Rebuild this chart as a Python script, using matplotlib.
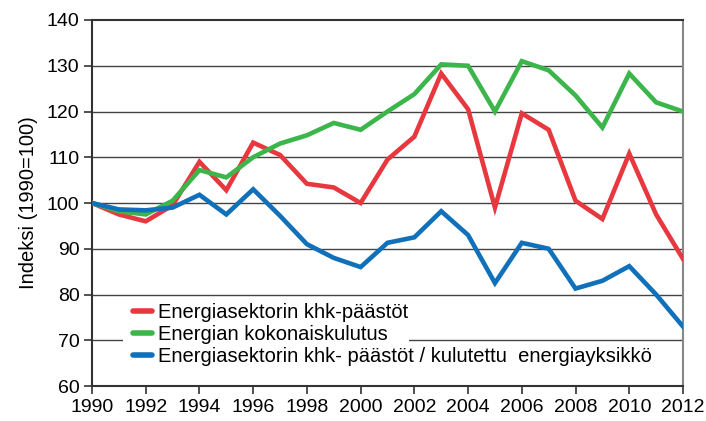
import matplotlib.pyplot as plt
from matplotlib.patches import Rectangle

years = list(range(1990, 2013))

# index values, 1990 = 100
khk_paastot = [100, 97.5, 96, 99.5, 109, 102.8, 113.2, 110.5, 104.2, 103.4, 100,
               109.5, 114.5, 128.3, 120.5, 99, 119.6, 116, 100.5, 96.5, 110.8, 97.5, 87.8]
kokonaiskulutus = [100, 98.2, 97.5, 100.5, 107.2, 105.6, 110, 113, 114.8, 117.5, 116,
                   120, 123.8, 130.3, 130, 120, 131, 129, 123.5, 116.5, 128.3, 122, 120]
per_yksikko = [100, 98.6, 98.4, 99, 101.8, 97.5, 103, 97.2, 91, 88, 86,
               91.3, 92.5, 98.2, 93, 82.5, 91.3, 90, 81.3, 83, 86.2, 80, 73]

labels = ["Energiasektorin khk-päästöt",
          "Energian kokonaiskulutus",
          "Energiasektorin khk- päästöt / kulutettu  energiayksikkö"]
colors = ["#e8383f", "#3cb54b", "#1070b9"]

plt.rcParams["font.family"] = ["Liberation Sans", "DejaVu Sans"]

fig = plt.figure(figsize=(7.06, 4.21), dpi=100)
ax = fig.add_axes([0.1303, 0.0831, 0.8371, 0.8694])

for y in range(70, 140, 10):
    ax.axhline(y, color="#444444", lw=1.0, zorder=1)

# white box behind the legend hides part of the 70 gridline
ax.add_patch(Rectangle((0.052, 0.03), 0.484, 0.2, transform=ax.transAxes,
                       facecolor="white", edgecolor="none", zorder=1.5))

for vals, lab, col in zip([khk_paastot, kokonaiskulutus, per_yksikko], labels, colors):
    ax.plot(years, vals, color=col, lw=3.3, label=lab, zorder=3, solid_joinstyle="miter")

ax.set_xlim(1990, 2012)
ax.set_ylim(60, 140)
ax.set_xticks(range(1990, 2013, 2))
ax.set_yticks(range(60, 141, 10))
ax.tick_params(labelsize=14, length=6, width=1.2, color="#333333", pad=3)
ax.set_ylabel("Indeksi (1990=100)", fontsize=14.5, labelpad=6)

for s in ["left", "bottom", "top"]:
    ax.spines[s].set_color("#333333")
    ax.spines[s].set_linewidth(1.5)
ax.spines["right"].set_color("#888888")
ax.spines["right"].set_linewidth(1.5)

leg = ax.legend(loc="upper left", bbox_to_anchor=(0.069, 0.228), frameon=False,
                fontsize=14.5, handlelength=0.95, handletextpad=0.3, labelspacing=0.16,
                borderaxespad=0, borderpad=0)
for h in leg.get_lines():
    h.set_linewidth(4)
    h.set_solid_capstyle("round")

fig.savefig("out.png", dpi=100)
